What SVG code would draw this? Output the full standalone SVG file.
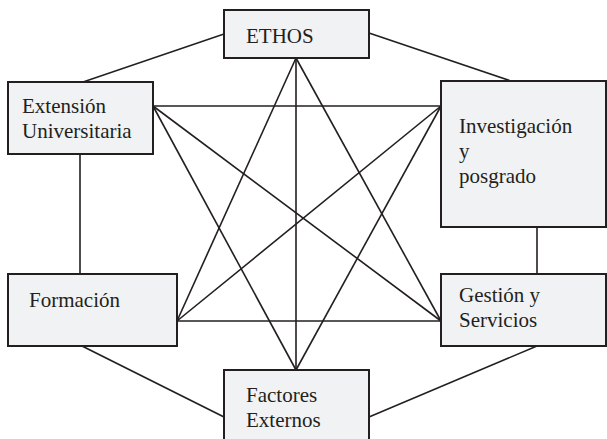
<svg xmlns="http://www.w3.org/2000/svg" width="607" height="439" viewBox="0 0 607 439">
  <style>
    .box { fill: #f1f2f4; stroke: #231f20; stroke-width: 2; }
    .lbl { font-family: 'Liberation Serif', 'Times New Roman', Times, 'Nimbus Roman', 'FreeSerif', serif; font-size: 21px; fill: #231f20; }
    .edge { stroke: #231f20; stroke-width: 1.6; fill: none; }
  </style>
  <rect width="607" height="439" fill="#ffffff"/>

  <!-- connectors: outer hexagon and inner star -->
  <g id="connectors">
    <line class="edge" x1="224" y1="34" x2="83" y2="82"/>
    <line class="edge" x1="369" y1="33" x2="511" y2="81"/>
    <line class="edge" x1="80" y1="154" x2="80" y2="274"/>
    <line class="edge" x1="537" y1="227" x2="537" y2="274"/>
    <line class="edge" x1="82" y1="346" x2="224" y2="417"/>
    <line class="edge" x1="537" y1="346" x2="369" y2="417"/>

    <line class="edge" x1="296" y1="58" x2="177" y2="321"/>
    <line class="edge" x1="296" y1="58" x2="441" y2="321"/>
    <line class="edge" x1="296" y1="58" x2="296" y2="370"/>
    <line class="edge" x1="153" y1="106" x2="441" y2="106"/>
    <line class="edge" x1="153" y1="106" x2="441" y2="321"/>
    <line class="edge" x1="153" y1="106" x2="296" y2="370"/>
    <line class="edge" x1="441" y1="106" x2="177" y2="321"/>
    <line class="edge" x1="441" y1="106" x2="296" y2="370"/>
    <line class="edge" x1="177" y1="321" x2="441" y2="321"/>
  </g>

  <g id="ethos">
    <rect class="box" x="224" y="10" width="145" height="48"/>
    <text class="lbl" x="246" y="43">ETHOS</text>
  </g>

  <g id="extension">
    <rect class="box" x="8" y="82" width="145" height="72"/>
    <text class="lbl" x="22" y="113">Extensión</text>
    <text class="lbl" x="22" y="138">Universitaria</text>
  </g>

  <g id="investigacion">
    <rect class="box" x="441" y="81" width="165" height="146"/>
    <text class="lbl" x="459" y="133">Investigación</text>
    <text class="lbl" x="459" y="158">y</text>
    <text class="lbl" x="459" y="183">posgrado</text>
  </g>

  <g id="formacion">
    <rect class="box" x="8" y="274" width="169" height="72"/>
    <text class="lbl" x="29" y="307">Formación</text>
  </g>

  <g id="gestion">
    <rect class="box" x="441" y="274" width="165" height="72"/>
    <text class="lbl" x="459" y="302">Gestión y</text>
    <text class="lbl" x="459" y="327">Servicios</text>
  </g>

  <g id="factores">
    <rect class="box" x="224" y="370" width="145" height="80"/>
    <text class="lbl" x="246" y="402">Factores</text>
    <text class="lbl" x="246" y="427">Externos</text>
  </g>
</svg>
